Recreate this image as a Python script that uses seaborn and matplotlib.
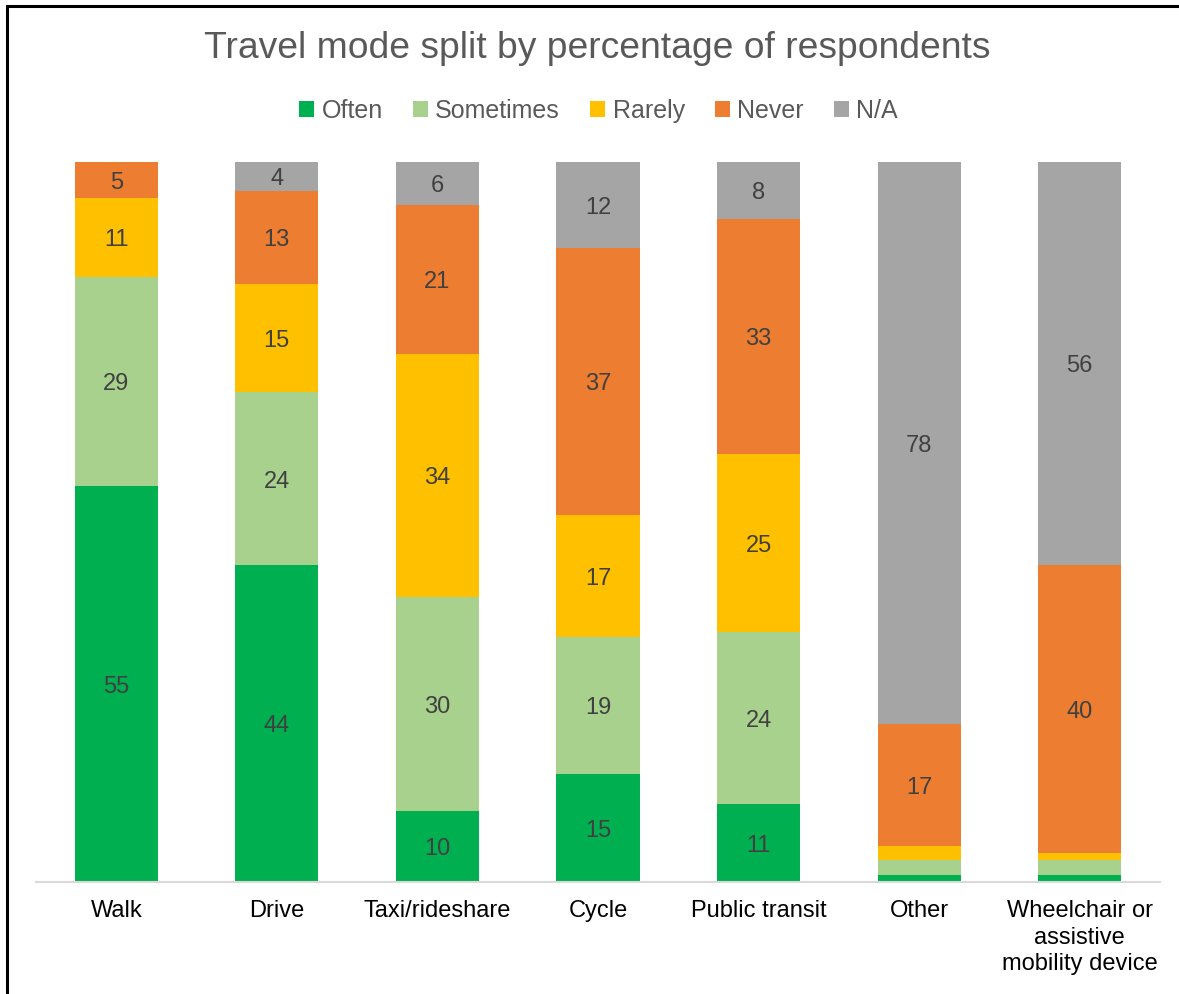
import matplotlib
matplotlib.use("Agg")
import matplotlib.pyplot as plt
from matplotlib.patches import Rectangle, Patch
import numpy as np
import pandas as pd
import seaborn as sns

# Survey results: share of respondents (%) per travel mode and frequency
modes = ["Walk", "Drive", "Taxi/rideshare", "Cycle", "Public transit", "Other",
         "Wheelchair or\nassistive\nmobility device"]
often = [55, 44, 10, 15, 11, 1, 1]
sometimes = [29, 24, 30, 19, 24, 2, 2]
rarely = [11, 15, 34, 17, 25, 2, 1]
never = [5, 13, 21, 37, 33, 17, 40]
not_applicable = [0, 4, 6, 12, 8, 78, 56]

series_names = ["Often", "Sometimes", "Rarely", "Never", "N/A"]
series_values = [often, sometimes, rarely, never, not_applicable]
colors = ["#00B050", "#A9D18E", "#FFC000", "#ED7D31", "#A5A5A5"]

sns.set_theme(style="white")
plt.rcParams["font.family"] = ["Liberation Sans", "DejaVu Sans"]

W, H = 1179, 994
fig = plt.figure(figsize=(W / 100, H / 100), dpi=100)
ax = fig.add_axes([36 / W, 112 / H, 1124 / W, 720 / H])

vals = np.array(series_values, dtype=float)
# 100% stacked: each column scaled to its own total (rounded shares may sum to 101)
shares = vals / vals.sum(axis=0) * 100
tops = np.cumsum(shares, axis=0)
bottoms = tops - shares

# Stacked bars drawn as overlapping cumulative totals, tallest first
for i in range(len(series_names) - 1, -1, -1):
    df = pd.DataFrame({"mode": modes, "total": tops[i]})
    sns.barplot(data=df, x="mode", y="total", order=modes, color=colors[i],
                saturation=1, width=0.517, linewidth=0, ax=ax, errorbar=None)

# Value labels in the middle of each segment
for i in range(len(series_names)):
    for j in range(len(modes)):
        v = vals[i, j]
        if v >= 4:
            ax.annotate(f"{int(v)}", (j, bottoms[i, j] + shares[i, j] / 2),
                        xytext=(0, -2), textcoords="offset points",
                        ha="center", va="center", fontsize=17, color="#404040")

ax.set_xlim(-0.5, len(modes) - 0.5)
ax.set_ylim(0, 100)
ax.set_xlabel("")
ax.set_ylabel("")
ax.set_yticks([])
for s in ["left", "right", "top"]:
    ax.spines[s].set_visible(False)
ax.spines["bottom"].set_color("#D9D9D9")
ax.spines["bottom"].set_linewidth(1.5)
ax.tick_params(axis="x", length=0, pad=13, labelsize=17, labelcolor="#000000")
for lbl in ax.get_xticklabels():
    lbl.set_linespacing(1.27)
    lbl.set_verticalalignment("top")

fig.text(0.5 + 8 / W, 1 - 49 / H, "Travel mode split by percentage of respondents",
         ha="center", va="center", fontsize=26.8, color="#595959")

handles = [Patch(facecolor=c, edgecolor="none", label=n) for n, c in zip(series_names, colors)]
fig.legend(handles=handles, loc="center", bbox_to_anchor=(0.5 + 9 / W, 1 - 111 / H), ncol=5,
           frameon=False, fontsize=18, labelcolor="#595959", handlelength=0.6,
           handleheight=0.6, handletextpad=0.3, columnspacing=1.2)

# Chart frame
fig.patches.append(Rectangle((6.5 / W, -0.2), 1.5, 1.2 - 5.5 / H, fill=False,
                             edgecolor="black", linewidth=2.2, transform=fig.transFigure,
                             clip_on=False))

fig.savefig("out.png", dpi=100)
